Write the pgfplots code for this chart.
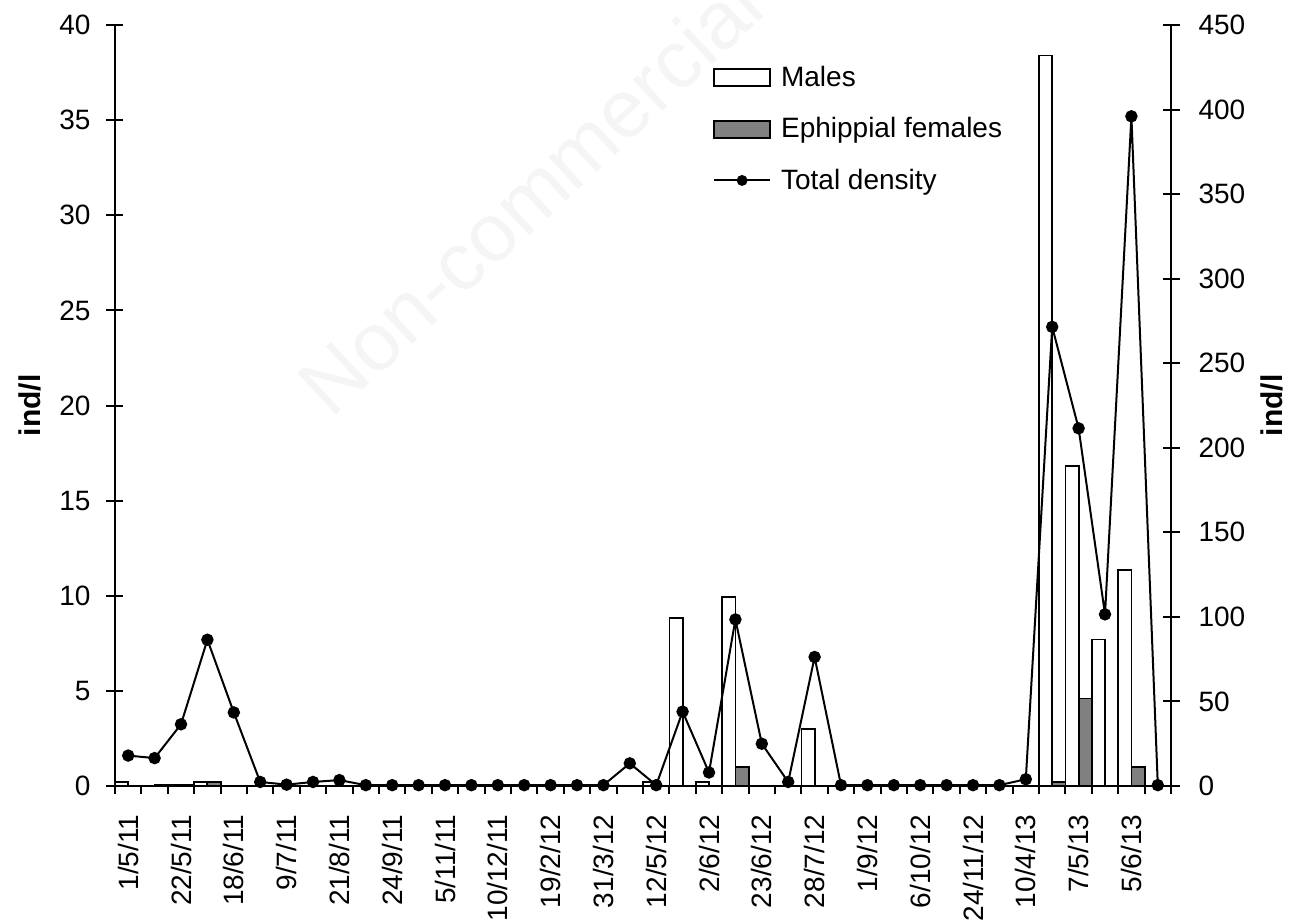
\documentclass[border=0pt]{standalone}
\usepackage{fontspec}
\setmainfont{Liberation Sans}
\usepackage{pgfplots}
\pgfplotsset{compat=1.18}
\begin{document}
\begin{tikzpicture}[font=\fontsize{14}{17}\selectfont]
\pgfplotsset{
  common/.style={
    width=528pt, height=380.5pt, scale only axis,
    xmin=-0.5, xmax=39.5,
    /pgf/number format/assume math mode=true,
    tick label style={font=\fontsize{14}{17}\selectfont},
    label style={font=\bfseries\fontsize{15}{18}\selectfont},
    tick style={black, line width=1pt},
  },
  nolinearrows/.style={
    x axis line style={-, line width=1pt},
    y axis line style={-, line width=1pt},
  }
}
\begin{axis}[common, name=main,
  axis x line=bottom, axis y line=left,
  ymin=0, ymax=40, ytick={0,5,...,40},
  tick align=center, major tick length=8.5pt,
  xtick={0,2,...,38},
  xticklabels={1/5/11,22/5/11,18/6/11,9/7/11,21/8/11,24/9/11,5/11/11,10/12/11,19/2/12,31/3/12,12/5/12,2/6/12,23/6/12,28/7/12,1/9/12,6/10/12,24/11/12,10/4/13,7/5/13,5/6/13},
  xtick style={draw=none},
  xticklabel style={rotate=90, anchor=east},
  xticklabel shift=6.5pt,
  yticklabel shift=4.5pt,
  ylabel={ind/l},
  ylabel style={at={(axis description cs:-0.0805,0.5)}, anchor=center, font=\bfseries\fontsize{15}{18}\selectfont},
  nolinearrows,
]
\addplot[ybar, bar width=6.6pt, bar shift=-3.3pt, draw=black, fill=white, line width=0.9pt]
  coordinates {(0,0.2) (2,0.08) (3,0.2) (20,0.2) (21,8.85) (22,0.2) (23,9.95) (26,3.0) (35,38.4) (36,16.8) (37,7.7) (38,11.35)};
\addplot[ybar, bar width=6.6pt, bar shift=3.3pt, draw=black, fill=black!50, line width=0.9pt]
  coordinates {(1,0.08) (2,0.08) (3,0.2) (23,1.0) (35,0.22) (36,4.6) (38,1.0)};
\end{axis}
\begin{axis}[common,
  axis x line=bottom, axis y line=none,
  ymin=0, ymax=1,
  xtick={-0.5,0.5,...,39.5}, xticklabels={},
  tick align=outside, major tick length=4pt,
  nolinearrows,
]
\end{axis}
\begin{axis}[common,
  axis x line=none, axis y line=right,
  ymin=0, ymax=450, ytick={0,50,...,450},
  tick align=center, major tick length=8.5pt,
  yticklabel shift=6pt,
  ylabel={ind/l},
  ylabel style={at={(axis description cs:1.0956,0.5)}, anchor=center, font=\bfseries\fontsize{15}{18}\selectfont},
  clip=false,
  legend style={at={(0.566,0.949)}, anchor=north west, draw=none, fill=none, inner sep=0pt,
    row sep=12pt, column sep=4pt, font=\fontsize{14}{17}\selectfont, nodes={inner sep=1pt}},
  legend cell align=left,
  nolinearrows,
]
\addlegendimage{legend image code/.code={\draw[black, line width=0.9pt, fill=white] (0pt,-4.25pt) rectangle (28pt,4.25pt);}}
\addlegendentry{Males}
\addlegendimage{legend image code/.code={\draw[black, line width=0.9pt, fill=black!50] (0pt,-4.25pt) rectangle (28pt,4.25pt);}}
\addlegendentry{Ephippial females}
\addplot[black, line width=1pt, mark=*, mark size=2.6pt,
  legend image code/.code={\draw[black,line width=1pt] (0pt,0pt) -- (28pt,0pt); \fill[black] (14pt,0pt) circle (2.2pt);}]
  coordinates {(0,18) (1,16.5) (2,36.5) (3,86.5) (4,43.5) (5,2.4) (6,0.8) (7,2.4) (8,3.5) (9,0.5)
  (10,0.5) (11,0.5) (12,0.5) (13,0.5) (14,0.5) (15,0.5) (16,0.5) (17,0.5) (18,0.5) (19,13.4)
  (20,0.5) (21,44) (22,8) (23,98.5) (24,25) (25,2.4) (26,76.3) (27,0.5) (28,0.5) (29,0.5)
  (30,0.5) (31,0.5) (32,0.5) (33,0.5) (34,4) (35,271.5) (36,211.5) (37,101.5) (38,396) (39,0.5)};
\addlegendentry{Total density}
\end{axis}
\node[rotate=43, text=black!4, font=\fontsize{41}{41}\selectfont] at ([xshift=207.5pt,yshift=-85pt]main.north west) {Non-commercial};
\pgfresetboundingbox
\path ([xshift=-57.5pt,yshift=-68.5pt]main.south west) rectangle ([xshift=63.5pt,yshift=12.5pt]main.north east);
\end{tikzpicture}
\end{document}
